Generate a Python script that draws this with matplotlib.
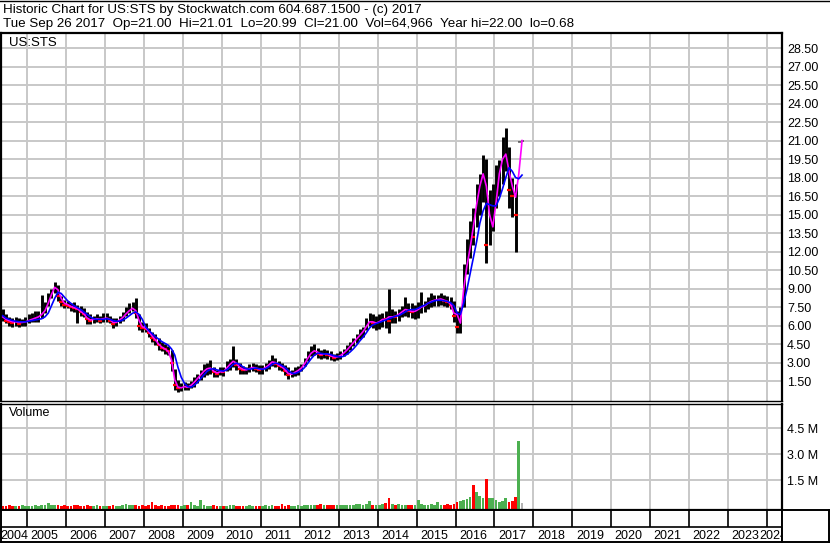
import numpy as np
import pandas as pd
import matplotlib
matplotlib.use('Agg')
import matplotlib.pyplot as plt
from matplotlib.lines import Line2D

plt.rcParams['font.family'] = ['Liberation Sans', 'DejaVu Sans']

W, H = 830, 543

# Um valor por mes, mai/2004 .. set/2017
meses = pd.date_range('2004-05-01', '2017-09-01', freq='MS')

maxima = [
    7.3, 6.9, 6.7, 6.6, 6.7, 6.6, 6.5, 6.7,                              # 2004
    6.9, 7.0, 7.2, 7.2, 8.5, 7.9, 8.6, 9.0, 9.5, 9.3, 8.4, 8.1,          # 2005
    8.0, 7.8, 7.9, 7.7, 7.6, 7.4, 7.1, 6.9, 6.8, 6.9, 6.8, 7.0,          # 2006
    7.0, 6.8, 6.6, 6.6, 6.8, 7.1, 7.5, 7.8, 7.9, 8.2, 6.9, 6.3,          # 2007
    6.2, 5.8, 5.5, 5.3, 5.0, 4.7, 4.5, 4.3, 4.0, 2.5, 1.6, 1.3,          # 2008
    1.4, 1.3, 1.5, 1.8, 2.1, 2.4, 2.9, 3.0, 3.2, 2.6, 2.4, 2.6,          # 2009
    2.6, 3.1, 3.3, 4.3, 3.3, 3.0, 2.7, 2.6, 2.9, 3.0, 2.9, 2.8,          # 2010
    2.8, 3.0, 3.2, 3.6, 3.4, 3.1, 3.0, 2.8, 2.6, 2.4, 2.6, 2.7,          # 2011
    2.9, 3.4, 3.9, 4.3, 4.5, 4.2, 4.0, 4.1, 4.0, 3.9, 3.7, 3.8,          # 2012
    3.9, 4.1, 4.4, 4.7, 5.0, 5.3, 5.7, 5.9, 6.6, 7.0, 6.9, 6.8,          # 2013
    6.9, 7.0, 7.2, 9.0, 7.3, 7.2, 7.3, 7.6, 8.3, 7.8, 7.8, 7.7,          # 2014
    7.9, 8.7, 8.0, 8.3, 8.6, 8.5, 8.5, 8.6, 8.5, 8.4, 8.3, 8.0,          # 2015
    7.2, 7.5, 11.0, 13.0, 14.5, 15.5, 17.5, 18.3, 19.8, 19.5, 17.0, 17.5,  # 2016
    19.0, 19.4, 21.3, 22.0, 20.5, 18.0, 17.5, 21.0, 21.01,                 # 2017
]
minima = [
    6.4, 6.2, 6.0, 5.9, 6.0, 5.9, 6.0, 6.0,
    6.2, 6.3, 6.3, 6.3, 6.6, 7.0, 7.6, 8.2, 8.6, 8.0, 7.6, 7.4,
    7.4, 7.2, 7.1, 6.2, 6.8, 6.7, 6.1, 6.1, 6.2, 6.3, 6.2, 6.3,
    6.3, 6.2, 5.8, 6.0, 6.2, 6.4, 6.8, 7.0, 7.2, 6.6, 5.6, 5.5,
    5.5, 5.1, 4.7, 4.4, 4.0, 3.9, 3.7, 3.6, 2.3, 0.8, 0.6, 0.7,
    0.8, 0.8, 0.9, 1.0, 1.3, 1.6, 1.8, 2.0, 2.1, 1.8, 1.8, 2.0,
    1.9, 2.3, 2.4, 2.6, 2.4, 2.1, 2.1, 2.1, 2.2, 2.3, 2.2, 2.1,
    2.1, 2.3, 2.5, 2.7, 2.6, 2.4, 2.3, 2.0, 1.7, 1.8, 1.9, 2.0,
    2.3, 2.7, 3.1, 3.5, 3.6, 3.4, 3.3, 3.4, 3.3, 3.2, 3.1, 3.2,
    3.3, 3.5, 3.7, 4.0, 4.3, 4.6, 4.9, 5.1, 5.6, 6.0, 5.8, 5.6,
    5.7, 5.9, 5.8, 5.4, 6.2, 6.2, 6.4, 6.7, 6.8, 6.7, 6.6, 6.5,
    6.6, 7.0, 7.1, 7.3, 7.5, 7.6, 7.6, 7.7, 7.6, 7.5, 7.3, 6.3,
    5.4, 5.4, 7.5, 10.2, 11.5, 12.5, 14.0, 15.0, 16.0, 11.1, 12.5, 13.7,
    15.5, 16.5, 17.5, 18.5, 15.5, 14.8, 12.0, 20.9, 20.95,
]
fecho = [
    6.6, 6.4, 6.3, 6.2, 6.4, 6.1, 6.3, 6.4,
    6.6, 6.7, 6.8, 6.9, 7.1, 7.5, 8.3, 8.8, 9.2, 8.4, 7.9, 7.7,
    7.6, 7.5, 7.4, 7.3, 7.1, 6.9, 6.5, 6.4, 6.5, 6.6, 6.4, 6.6,
    6.6, 6.4, 6.1, 6.3, 6.5, 6.8, 7.2, 7.4, 7.6, 7.0, 6.0, 5.8,
    5.7, 5.4, 5.0, 4.8, 4.4, 4.2, 4.1, 3.9, 3.0, 1.2, 0.9, 1.0,
    1.1, 1.0, 1.2, 1.4, 1.7, 2.0, 2.3, 2.5, 2.6, 2.2, 2.1, 2.3,
    2.2, 2.7, 2.9, 3.2, 2.8, 2.5, 2.4, 2.4, 2.6, 2.6, 2.5, 2.4,
    2.5, 2.7, 2.9, 3.1, 2.9, 2.7, 2.6, 2.3, 2.0, 2.1, 2.3, 2.4,
    2.7, 3.1, 3.6, 3.9, 4.0, 3.7, 3.6, 3.8, 3.6, 3.5, 3.4, 3.5,
    3.6, 3.9, 4.1, 4.4, 4.7, 5.0, 5.3, 5.6, 6.2, 6.5, 6.2, 6.2,
    6.4, 6.6, 6.5, 6.4, 6.8, 6.7, 7.0, 7.2, 7.3, 7.2, 7.1, 7.2,
    7.4, 7.6, 7.6, 7.9, 8.0, 8.1, 8.1, 8.2, 8.0, 7.9, 7.7, 6.8,
    5.9, 7.0, 10.5, 12.0, 13.5, 13.2, 16.5, 17.5, 18.5, 12.5, 15.0, 16.5,
    17.5, 18.5, 20.0, 20.0, 17.0, 16.5, 15.0, 21.0, 21.0,
]
# media curta (magenta) e media longa (azul)
media_curta = [
    6.7, 6.5, 6.4, 6.3, 6.3, 6.25, 6.25, 6.3,
    6.4, 6.5, 6.6, 6.7, 6.9, 7.2, 7.8, 8.5, 9.1, 8.9, 8.2, 7.8,
    7.7, 7.55, 7.45, 7.35, 7.15, 6.95, 6.6, 6.45, 6.5, 6.55, 6.5, 6.55,
    6.6, 6.5, 6.25, 6.25, 6.45, 6.65, 6.95, 7.2, 7.4, 7.2, 6.4, 5.9,
    5.8, 5.5, 5.15, 4.85, 4.5, 4.25, 4.1, 3.9, 3.2, 1.6, 1.0, 0.95,
    1.05, 1.0, 1.15, 1.4, 1.7, 2.0, 2.3, 2.5, 2.55, 2.3, 2.15, 2.25,
    2.25, 2.55, 2.85, 3.1, 2.95, 2.6, 2.45, 2.4, 2.5, 2.6, 2.55, 2.45,
    2.45, 2.6, 2.8, 3.05, 3.0, 2.8, 2.65, 2.4, 2.1, 2.05, 2.2, 2.35,
    2.55, 2.9, 3.35, 3.75, 3.95, 3.85, 3.65, 3.7, 3.7, 3.55, 3.45, 3.45,
    3.55, 3.75, 4.0, 4.3, 4.6, 4.9, 5.2, 5.5, 5.9, 6.3, 6.3, 6.2,
    6.3, 6.5, 6.5, 6.7, 6.7, 6.75, 6.9, 7.1, 7.3, 7.25, 7.15, 7.15,
    7.3, 7.5, 7.6, 7.8, 7.95, 8.05, 8.1, 8.15, 8.05, 7.95, 7.75, 7.0,
    6.9, 6.2, 8.9, 10.8, 12.3, 14.0, 15.8, 17.3, 18.3, 17.3, 15.0, 14.0,
    16.0, 18.3, 19.5, 19.9, 18.5, 17.3, 16.4, 18.3, 21.0,
]
media_longa = [
    6.8, 6.6, 6.5, 6.4, 6.35, 6.3, 6.3, 6.3,
    6.35, 6.4, 6.45, 6.5, 6.55, 6.7, 7.0, 7.6, 8.2, 8.7, 8.6, 8.3,
    8.0, 7.8, 7.6, 7.45, 7.3, 7.1, 6.9, 6.7, 6.55, 6.5, 6.5, 6.5,
    6.55, 6.5, 6.4, 6.35, 6.35, 6.45, 6.6, 6.8, 7.0, 7.1, 6.9, 6.5,
    5.9, 5.6, 5.35, 5.1, 4.9, 4.7, 4.55, 4.4, 4.1, 3.6, 2.6, 1.8,
    1.3, 1.05, 1.0, 1.15, 1.4, 1.7, 2.0, 2.3, 2.45, 2.5, 2.4, 2.35,
    2.3, 2.4, 2.6, 2.85, 2.95, 2.85, 2.65, 2.5, 2.45, 2.5, 2.55, 2.5,
    2.45, 2.5, 2.65, 2.85, 2.95, 2.9, 2.75, 2.6, 2.35, 2.15, 2.1, 2.2,
    2.35, 2.6, 2.95, 3.3, 3.6, 3.75, 3.75, 3.7, 3.7, 3.65, 3.55, 3.5,
    3.45, 3.5, 3.65, 3.85, 4.1, 4.4, 4.75, 5.05, 5.4, 5.8, 6.05, 6.15,
    6.25, 6.35, 6.45, 6.55, 6.65, 6.75, 6.8, 6.95, 7.1, 7.25, 7.3, 7.3,
    7.4, 7.55, 7.65, 7.8, 7.9, 8.0, 8.05, 8.05, 8.0, 7.95, 7.85, 7.6,
    7.0, 6.9, 7.8, 8.9, 10.2, 11.5, 12.8, 14.3, 15.3, 15.9, 15.8, 15.7,
    15.7, 16.3, 17.1, 18.0, 18.8, 18.5, 18.0, 17.9, 18.2,
]
# volume em milhoes
volume = [
    0.05, 0.04, 0.06, 0.03, 0.05, 0.04, 0.06, 0.05,
    0.05, 0.04, 0.07, 0.05, 0.10, 0.06, 0.17, 0.08, 0.10, 0.07, 0.05, 0.06,
    0.05, 0.04, 0.06, 0.08, 0.05, 0.04, 0.06, 0.05, 0.04, 0.06, 0.05, 0.04,
    0.04, 0.05, 0.06, 0.04, 0.05, 0.10, 0.14, 0.08, 0.06, 0.09, 0.05, 0.06,
    0.05, 0.06, 0.28, 0.07, 0.05, 0.06, 0.04, 0.05, 0.08, 0.10, 0.06, 0.05,
    0.06, 0.07, 0.28, 0.10, 0.05, 0.34, 0.06, 0.04, 0.05, 0.06, 0.04, 0.05,
    0.05, 0.04, 0.06, 0.10, 0.05, 0.04, 0.05, 0.04, 0.06, 0.05, 0.04, 0.05,
    0.05, 0.06, 0.05, 0.08, 0.04, 0.05, 0.12, 0.05, 0.06, 0.04, 0.05, 0.06,
    0.05, 0.07, 0.06, 0.10, 0.08, 0.06, 0.12, 0.07, 0.06, 0.08, 0.06, 0.07,
    0.06, 0.08, 0.10, 0.07, 0.09, 0.12, 0.15, 0.10, 0.12, 0.32, 0.10, 0.08,
    0.10, 0.12, 0.22, 0.47, 0.15, 0.10, 0.12, 0.08, 0.10, 0.09, 0.08, 0.10,
    0.36, 0.12, 0.10, 0.08, 0.12, 0.10, 0.28, 0.10, 0.08, 0.12, 0.10, 0.15,
    0.25, 0.30, 0.35, 0.45, 0.55, 1.23, 0.85, 0.60, 0.50, 1.58, 0.48, 0.51,
    0.35, 0.28, 0.30, 0.46, 0.25, 0.30, 0.53, 3.78, 0.20,
]

anos = list(range(2004, 2025))
precos_eixo = np.arange(1.5, 29.0, 1.5)
volumes_eixo = [1.5, 3.0, 4.5]

titulo1 = 'Historic Chart for US:STS by Stockwatch.com 604.687.1500 - (c) 2017'
titulo2 = ('Tue Sep 26 2017  Op=21.00  Hi=21.01  Lo=20.99  Cl=21.00  '
           'Vol=64,966  Year hi=22.00  lo=0.68')

# posicao de cada mes em anos decimais (meio do mes)
t = meses.year + (meses.month - 1) / 12 + 1 / 24
t = np.asarray(t, dtype=float)
fecho = np.array(fecho)


def caixa(x0, y0, x1, y1):
    # retangulo em pixels (origem no topo) -> fracao da figura
    return [x0 / W, 1 - y1 / H, (x1 - x0) / W, (y1 - y0) / H]


XMIN, XMAX = 2004.33, 2024.37
GRADE = dict(color='#c8c8c8', lw=1.4, zorder=0)

fig = plt.figure(figsize=(W / 100, H / 100), dpi=100)
fig.patch.set_facecolor('white')

# cabecalho
fig.add_artist(Line2D([0, 1], [1 - 0.6 / H, 1 - 0.6 / H], color='black', lw=1))
fig.text(3 / W, 1 - 9.5 / H, titulo1, fontsize=9.6, va='center', ha='left')
fig.text(3 / W, 1 - 23.5 / H, titulo2, fontsize=9.6, va='center', ha='left')

# ---- painel de precos
ax = fig.add_axes(caixa(1, 32.5, 781.5, 401))
ax.set_xlim(XMIN, XMAX)
ax.set_ylim(-0.12, 29.76)
for a in anos[1:]:
    ax.axvline(a, **GRADE)
for p in precos_eixo:
    ax.axhline(p, **GRADE)

ax.vlines(t, minima, maxima, color='black', lw=2.1, zorder=2)
desce = np.r_[False, fecho[1:] < fecho[:-1]]
ax.plot(t[desce], fecho[desce], ls='none', marker='_', ms=3.5, mew=1.6,
        color='red', zorder=3)
ax.plot(t, media_curta, color='#ff00ff', lw=1.2, zorder=4)
ax.plot(t, media_longa, color='#0000ff', lw=1.2, zorder=5)

ax.yaxis.tick_right()
ax.set_yticks(precos_eixo)
ax.set_yticklabels([f'{p:.2f}' for p in precos_eixo])
ax.tick_params(axis='y', length=0, pad=4, labelsize=9)
ax.set_xticks([])
for s in ax.spines.values():
    s.set_linewidth(1.6)
ax.spines['bottom'].set_linewidth(1.0)
ax.text(8 / 780, 1 - 10 / 368.5, 'US:STS', transform=ax.transAxes,
        fontsize=9.5, va='center', ha='left')

# ---- painel de volume
axv = fig.add_axes(caixa(1, 403.5, 781.5, 509.5))
axv.set_xlim(XMIN, XMAX)
piso = -0.18
axv.set_ylim(piso, 5.94)
for a in anos[1:]:
    axv.axvline(a, **GRADE)
for v in volumes_eixo:
    axv.axhline(v, **GRADE)
cores = ['#4cb050' if i > 0 and fecho[i] >= fecho[i - 1] else '#ff0000'
         for i in range(len(fecho))]
cores[-1] = '#b4b4b4'
axv.bar(t, np.array(volume) - piso, bottom=piso, width=0.07, color=cores,
        linewidth=0, zorder=2)
axv.yaxis.tick_right()
axv.set_yticks(volumes_eixo)
axv.set_yticklabels([f'{v:.1f} M' for v in volumes_eixo])
axv.tick_params(axis='y', length=0, pad=4, labelsize=9)
axv.set_xticks([])
for s in axv.spines.values():
    s.set_linewidth(1.6)
axv.spines['top'].set_linewidth(1.0)
axv.text(8 / 780, 1 - 10 / 106, 'Volume', transform=axv.transAxes,
         fontsize=9, va='center', ha='left')

# ---- faixa dos anos
axa = fig.add_axes(caixa(1, 509.5, 781.5, 541.5))
axa.set_xlim(XMIN, XMAX)
axa.set_ylim(0, 1)
corte = (541.5 - 527) / 32
axa.vlines(anos[1:], corte, 1, color='black', lw=1.2)
axa.axhline(corte, color='black', lw=1.2)
for a in anos:
    xl = a + 0.09
    if a == anos[0]:
        xl = XMIN - 0.02
    if xl + 0.68 > XMAX:
        xl = XMAX - 0.58
    axa.text(xl, 0.17, str(a), fontsize=9, ha='left', va='center', clip_on=True)
axa.set_xticks([])
axa.set_yticks([])
for s in axa.spines.values():
    s.set_linewidth(1.4)

axc = fig.add_axes(caixa(781.5, 509.5, 829, 541.5))
axc.set_xticks([])
axc.set_yticks([])
for s in axc.spines.values():
    s.set_linewidth(1.4)

fig.savefig('out.png', dpi=100)
